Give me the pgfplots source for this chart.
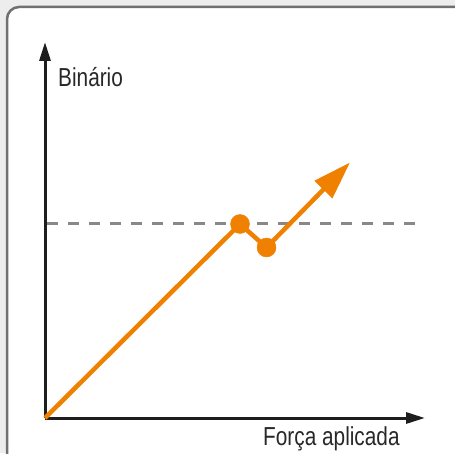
\documentclass[border=0pt]{standalone}
\usepackage{fontspec}
\setmainfont{Liberation Sans}[FakeStretch=0.8]
\usepackage{pgfplots}
\pgfplotsset{compat=1.18}
\usetikzlibrary{arrows.meta}
\definecolor{bgout}{RGB}{236,237,236}
\definecolor{boxborder}{RGB}{112,112,112}
\definecolor{orng}{RGB}{240,128,0}
\definecolor{dashgray}{RGB}{136,136,136}
\definecolor{axblack}{RGB}{30,30,30}
\definecolor{txt}{RGB}{40,40,40}
\begin{document}
\begin{tikzpicture}[x=1pt,y=1pt]
\useasboundingbox (0,0) rectangle (455,453);
\begin{scope}
\clip (0,0) rectangle (455,453);
\fill[bgout] (0,0) rectangle (455,453);
\draw[boxborder, line width=2.5pt, fill=white, rounded corners=12pt] (7,-30) rectangle (470,446);
\end{scope}
\begin{axis}[
  at={(45pt,35pt)}, anchor=south west,
  scale only axis, width=380pt, height=376pt,
  xmin=0, xmax=380, ymin=0, ymax=376,
  enlargelimits=false, clip=false,
  axis lines=left,
  axis line style={axblack, line width=3pt, -{Triangle[length=19pt,width=11pt]}},
  xtick=\empty, ytick=\empty,
]
\addplot[dashgray, line width=3pt, dash pattern=on 11pt off 10pt] coordinates {(2,194) (378,194)};
\addplot[orng, line width=4.5pt, -{Triangle[length=38pt,width=24pt]}] coordinates {(0,0) (195,194) (221.5,170.5) (305,255.5)};
\addplot[only marks, mark=*, mark size=9.5pt, orng, mark options={draw=orng, fill=orng}] coordinates {(195,194) (221.5,170.5)};
\node[anchor=base west, inner sep=0, text=txt, font=\fontsize{26}{30}\selectfont] at (axis cs:13,331) {Binário};
\node[anchor=base west, inner sep=0, text=txt, font=\fontsize{26}{30}\selectfont] at (axis cs:218,-27) {Força aplicada};
\end{axis}
\end{tikzpicture}
\end{document}
